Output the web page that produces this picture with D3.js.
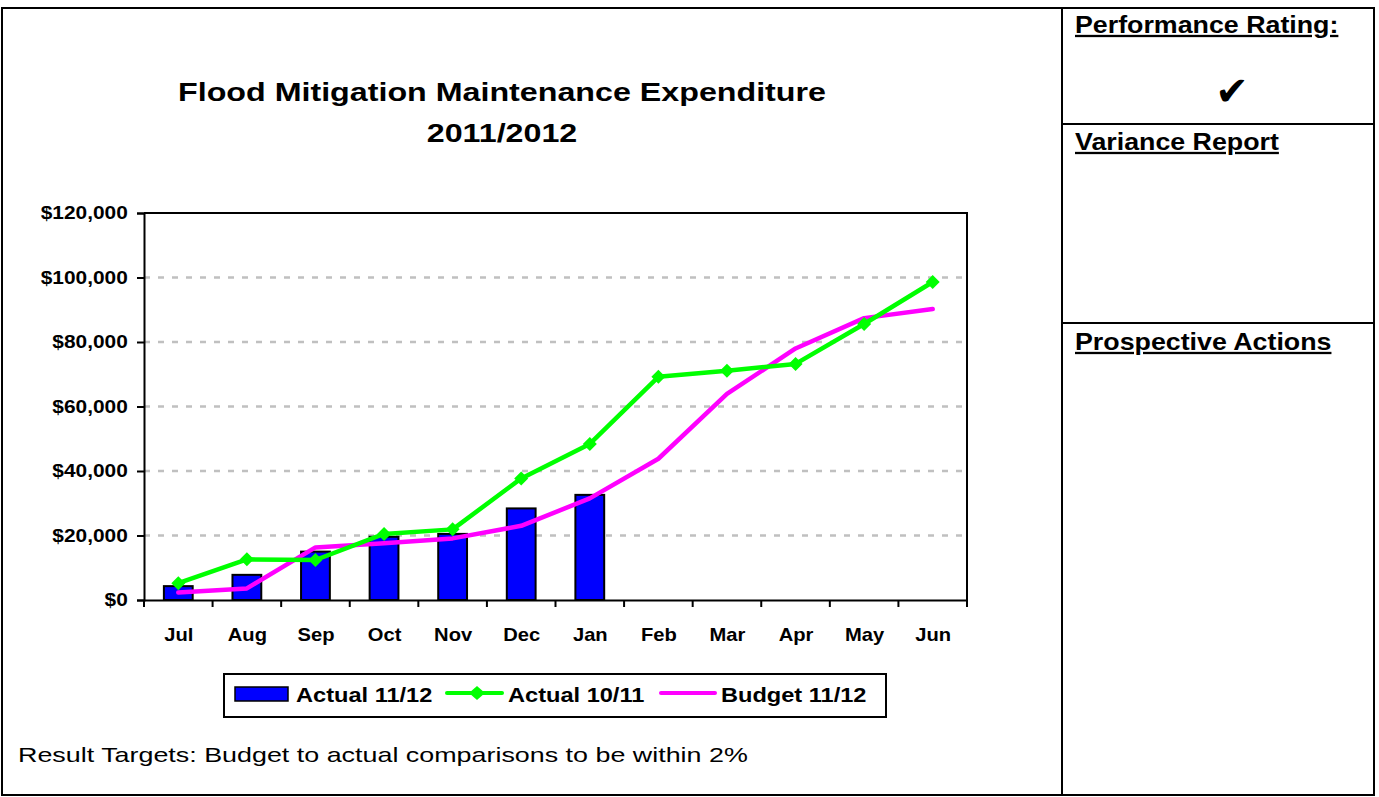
<!DOCTYPE html>
<html>
<head>
<meta charset="utf-8">
<script src="https://cdn.jsdelivr.net/npm/d3@7"></script>
<style>
  body { margin: 0; background: #fff; }
  svg { font-family: "Liberation Sans", Arial, sans-serif; display: block; }
</style>
</head>
<body>
<div id="chart"></div>
<script>
const months = ["Jul", "Aug", "Sep", "Oct", "Nov", "Dec", "Jan", "Feb", "Mar", "Apr", "May", "Jun"];
const actual1112 = [4300, 7800, 15000, 19600, 20500, 28400, 32600];
const actual1011 = [5200, 12600, 12400, 20500, 21900, 37700, 48400, 69200, 71100, 73200, 85600, 98600];
const budget1112 = [2300, 3600, 16300, 17600, 19100, 23000, 31500, 43800, 63900, 78000, 87400, 90200];
const yTicks = [0, 20000, 40000, 60000, 80000, 100000, 120000];

const width = 1379, height = 797;
const margin = ({top: 213, right: 412, bottom: 197, left: 144});

const svg = d3.select("#chart")
  .append("svg")
  .attr("width", width)
  .attr("height", height);

// text in the original is wider than Arial, so stretch it sideways
function label(g, x, y, txt, size, sx, opts = {}) {
  let t = g.append("text")
    .attr("transform", `translate(${x},${y}) scale(${sx},1)`)
    .attr("font-size", size)
    .attr("font-weight", opts.bold === false ? "normal" : "bold")
    .attr("text-anchor", opts.anchor || "start")
    .text(txt);
  if (opts.underline) t.attr("text-decoration", "underline");
  return t;
}

// outer frame and right panel
svg.append("rect")
  .attr("x", 2).attr("y", 8)
  .attr("width", 1372).attr("height", 787)
  .attr("fill", "none").attr("stroke", "black").attr("stroke-width", 2);
svg.append("line").attr("x1", 1062).attr("x2", 1062).attr("y1", 8).attr("y2", 795)
  .attr("stroke", "black").attr("stroke-width", 2);
svg.append("line").attr("x1", 1062).attr("x2", 1374).attr("y1", 124).attr("y2", 124)
  .attr("stroke", "black").attr("stroke-width", 2);
svg.append("line").attr("x1", 1062).attr("x2", 1374).attr("y1", 323).attr("y2", 323)
  .attr("stroke", "black").attr("stroke-width", 2);

label(svg, 1075, 33, "Performance Rating:", 23, 1.165, {underline: true});
label(svg, 1075, 150, "Variance Report", 23, 1.165, {underline: true});
label(svg, 1075, 350, "Prospective Actions", 23, 1.165, {underline: true});

svg.append("text")
  .attr("x", 1232).attr("y", 105)
  .attr("text-anchor", "middle")
  .attr("font-size", 40)
  .attr("font-family", "DejaVu Sans")
  .text("\u2714");

// title
label(svg, 502, 101, "Flood Mitigation Maintenance Expenditure", 26, 1.24, {anchor: "middle"});
label(svg, 502, 142, "2011/2012", 26, 1.24, {anchor: "middle"});

let x = d3.scaleBand()
  .domain(months)
  .range([margin.left, width - margin.right])
  .paddingInner(0.58)
  .paddingOuter(0.29);

let xc = d3.scalePoint()
  .domain(months)
  .range([margin.left, width - margin.right])
  .padding(0.5);

let y = d3.scaleLinear()
  .domain([0, 120000])
  .range([height - margin.bottom, margin.top]);

// grid
svg.append("g")
  .selectAll("line")
  .data(yTicks.filter(d => d > 0 && d < 120000))
  .join("line")
  .attr("x1", margin.left).attr("x2", width - margin.right)
  .attr("y1", d => y(d)).attr("y2", d => y(d))
  .attr("stroke", "#c0c0c0")
  .attr("stroke-width", 2.5)
  .attr("stroke-dasharray", "6,8");

// plot right/top border
svg.append("path")
  .attr("d", `M${margin.left},${margin.top}H${width - margin.right}V${height - margin.bottom}`)
  .attr("fill", "none").attr("stroke", "black").attr("stroke-width", 2);

// bars
svg.append("g")
  .selectAll("rect")
  .data(actual1112)
  .join("rect")
  .attr("x", (d, i) => x(months[i]))
  .attr("y", d => y(d))
  .attr("width", x.bandwidth())
  .attr("height", d => y(0) - y(d))
  .attr("fill", "#0000ff")
  .attr("stroke", "black")
  .attr("stroke-width", 2);

let line = d3.line()
  .x((d, i) => xc(months[i]))
  .y(d => y(d));

svg.append("path")
  .datum(budget1112)
  .attr("fill", "none")
  .attr("stroke", "#ff00ff")
  .attr("stroke-width", 4.5)
  .attr("stroke-linejoin", "round")
  .attr("stroke-linecap", "round")
  .attr("d", line);

svg.append("path")
  .datum(actual1011)
  .attr("fill", "none")
  .attr("stroke", "#00ff00")
  .attr("stroke-width", 4.5)
  .attr("stroke-linejoin", "round")
  .attr("d", line);

svg.append("g")
  .selectAll("path")
  .data(actual1011)
  .join("path")
  .attr("transform", (d, i) => `translate(${xc(months[i])},${y(d)})`)
  .attr("d", "M0,-7L7,0L0,7L-7,0Z")
  .attr("fill", "#00ff00");

// axes
svg.append("g")
  .attr("transform", `translate(${margin.left},0)`)
  .call(d3.axisLeft(y).tickValues(yTicks).tickSize(7).tickPadding(7)
    .tickFormat(d => "$" + d3.format(",")(d)))
  .call(g => g.selectAll("line, path").attr("stroke-width", 2))
  .call(g => g.selectAll("text")
    .attr("font-size", 18).attr("font-weight", "bold")
    .attr("transform", "scale(1.16,1)")
    .attr("font-family", "Liberation Sans, Arial, sans-serif"));

let xAxis = svg.append("g")
  .attr("transform", `translate(0,${height - margin.bottom})`)
  .call(d3.axisBottom(xc).tickSize(0).tickPadding(28))
  .call(g => g.select(".domain").attr("stroke-width", 2))
  .call(g => g.selectAll("text")
    .attr("font-size", 18).attr("font-weight", "bold")
    .attr("transform", "scale(1.12,1)")
    .attr("font-family", "Liberation Sans, Arial, sans-serif"));

// category boundary ticks
xAxis.append("g")
  .selectAll("line")
  .data(d3.range(months.length + 1))
  .join("line")
  .attr("x1", i => margin.left + i * (width - margin.right - margin.left) / months.length)
  .attr("x2", i => margin.left + i * (width - margin.right - margin.left) / months.length)
  .attr("y1", 0).attr("y2", 7)
  .attr("stroke", "black").attr("stroke-width", 2);

// legend
let lg = svg.append("g");
lg.append("rect")
  .attr("x", 224).attr("y", 674).attr("width", 662).attr("height", 43)
  .attr("fill", "white").attr("stroke", "black").attr("stroke-width", 2);
lg.append("rect")
  .attr("x", 235).attr("y", 687).attr("width", 53).attr("height", 14)
  .attr("fill", "#0000ff").attr("stroke", "black").attr("stroke-width", 1.5);
lg.append("line").attr("x1", 447).attr("x2", 502).attr("y1", 693).attr("y2", 693)
  .attr("stroke", "#00ff00").attr("stroke-width", 4).attr("stroke-linecap", "round");
lg.append("path").attr("d", "M477,686L485,693L477,700L469,693Z").attr("fill", "#00ff00");
lg.append("line").attr("x1", 661).attr("x2", 715).attr("y1", 693).attr("y2", 693)
  .attr("stroke", "#ff00ff").attr("stroke-width", 4).attr("stroke-linecap", "round");

label(lg, 296, 702, "Actual 11/12", 20, 1.18);
label(lg, 508, 702, "Actual 10/11", 20, 1.18);
label(lg, 721, 702, "Budget 11/12", 20, 1.18);

label(svg, 18, 762, "Result Targets: Budget to actual comparisons to be within 2%", 21, 1.28, {bold: false});
</script>
</body>
</html>
